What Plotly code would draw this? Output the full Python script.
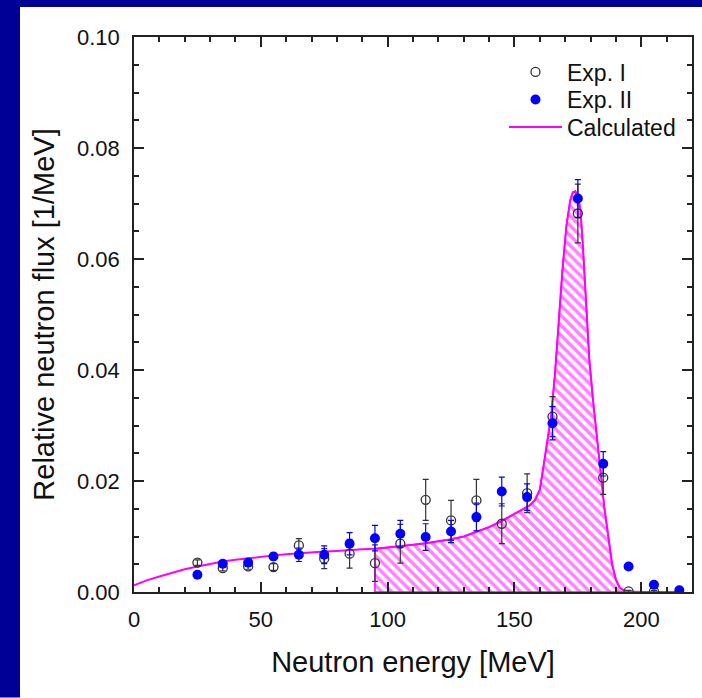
import plotly.graph_objects as go

# Measured spectra (energy bins in MeV, flux in 1/MeV)
exp1_energy = [25, 35, 45, 55, 65, 75, 85, 95, 105, 115, 125, 135, 145, 155, 165, 175, 185, 195, 205]
exp1_flux = [0.0053, 0.0043, 0.0046, 0.0045, 0.0084, 0.0060, 0.0069, 0.0052, 0.0087, 0.0166,
             0.0129, 0.0165, 0.0123, 0.0178, 0.0316, 0.0682, 0.0206, 0.0001, 0.0001]
exp1_err = [0.0005, 0.0005, 0.0005, 0.0006, 0.0012, 0.0018, 0.0026, 0.0033, 0.0035, 0.0037,
            0.0036, 0.0038, 0.0036, 0.0035, 0.0036, 0.0053, 0.0030, 0.0002, 0.0002]

exp2_energy = [25, 35, 45, 55, 65, 75, 85, 95, 105, 115, 125, 135, 145, 155, 165, 175, 185, 195, 205, 215]
exp2_flux = [0.0031, 0.0051, 0.0053, 0.0064, 0.0067, 0.0067, 0.0087, 0.0097, 0.0105, 0.0099,
             0.0109, 0.0135, 0.0181, 0.0171, 0.0304, 0.0709, 0.0231, 0.0046, 0.0013, 0.0003]
exp2_err = [0.0004, 0.0004, 0.0004, 0.0006, 0.0012, 0.0016, 0.0020, 0.0023, 0.0024, 0.0024,
            0.0020, 0.0025, 0.0026, 0.0024, 0.0030, 0.0034, 0.0022, 0.0003, 0.0002, 0.0002]

# Calculated spectrum
calc_energy = [0, 5, 10, 15, 20, 25, 30, 35, 40, 45, 50, 55, 60, 65, 70, 75, 80, 85, 90, 95,
               100, 105, 110, 115, 120, 125, 130, 135, 140, 145, 150, 153, 156, 158, 160, 161.5,
               163, 164.5, 166, 167.5, 169, 170.5, 172, 173, 174, 175, 176, 177, 178, 179.5,
               181, 182.5, 184, 185.5, 187, 188.5, 190, 191.5, 193, 195, 200, 205, 210, 215]
calc_flux = [0.0012, 0.0021, 0.0028, 0.0035, 0.0041, 0.0046, 0.0051, 0.0055, 0.0058, 0.0061,
             0.0064, 0.0066, 0.0068, 0.0070, 0.0072, 0.0073, 0.0074, 0.0076, 0.0077, 0.0078,
             0.0080, 0.0082, 0.0085, 0.0088, 0.0091, 0.0095, 0.0100, 0.0108, 0.0117, 0.0128,
             0.0141, 0.0148, 0.0156, 0.0165, 0.0184, 0.0228, 0.0275, 0.0318, 0.0395, 0.0490,
             0.0585, 0.0660, 0.0706, 0.0720, 0.0722, 0.0713, 0.0690, 0.0622, 0.0540, 0.0420,
             0.0345, 0.0280, 0.0212, 0.0150, 0.0100, 0.0050, 0.0022, 0.0008, 0.0003, 0.0001,
             0.0, 0.0, 0.0, 0.0]

hatch_from = 95  # MeV, start of the hatched region under the calculated curve

x_ticks = [0, 50, 100, 150, 200]
y_ticks = [0.00, 0.02, 0.04, 0.06, 0.08, 0.10]

MAGENTA = "#FF00FF"
BLUE = "#0000FF"
AXIS = "#222222"
NAVY = "#000096"
FONT = "Liberation Sans, Arial, sans-serif"

# Hatched region: closed polygon under the curve from hatch_from onward
seg = [(e, f) for e, f in zip(calc_energy, calc_flux) if e >= hatch_from]
hx = [seg[0][0]] + [e for e, _ in seg] + [seg[-1][0], seg[0][0]]
hy = [0.0] + [f for _, f in seg] + [0.0, 0.0]

fig = go.Figure()

fig.add_trace(go.Scatter(
    x=hx, y=hy, mode="lines", fill="toself",
    line=dict(color=MAGENTA, width=1.5),
    fillcolor="rgba(0,0,0,0)",
    fillpattern=dict(shape="\\", fgcolor=MAGENTA, bgcolor="white", size=7, solidity=0.5),
    showlegend=False, hoverinfo="skip",
))

fig.add_trace(go.Scatter(
    x=calc_energy, y=calc_flux, mode="lines", name="Calculated",
    line=dict(color=MAGENTA, width=2),
    legend="legend3",
))

fig.add_trace(go.Scatter(
    x=exp1_energy, y=exp1_flux, mode="markers", name="Exp. I",
    marker=dict(symbol="circle-open", size=9, color="#333333", line=dict(width=1.3)),
    error_y=dict(type="data", array=exp1_err, color="#333333", thickness=1.2, width=3),
    legend="legend",
))

fig.add_trace(go.Scatter(
    x=exp2_energy, y=exp2_flux, mode="markers", name="Exp. II",
    marker=dict(symbol="circle", size=10, color=BLUE),
    error_y=dict(type="data", array=exp2_err, color=BLUE, thickness=1.2, width=3),
    legend="legend2",
))

L, R, T, B = 134, 10, 37, 105.5
W, H = 702, 698
pw, ph = W - L - R, H - T - B

# Navy slide border along the left and top edges of the white panel
fig.add_shape(
    type="rect", xref="paper", yref="paper", layer="below",
    x0=-L / pw, x1=(20 - L) / pw,
    y0=-B / ph, y1=(H - B) / ph,
    fillcolor=NAVY, line=dict(width=0),
)
fig.add_shape(
    type="rect", xref="paper", yref="paper", layer="below",
    x0=-L / pw, x1=(W - L) / pw,
    y0=(H - 7 - B) / ph, y1=(H - B) / ph,
    fillcolor=NAVY, line=dict(width=0),
)

axis_common = dict(
    showline=True, linecolor=AXIS, linewidth=1.5, mirror="allticks",
    ticks="inside", ticklen=10, tickwidth=1.5, tickcolor=AXIS,
    showgrid=False, zeroline=False,
    tickfont=dict(family=FONT, size=22, color="#111111"),
)

fig.update_xaxes(
    range=[0, 220], tickvals=x_ticks,
    minor=dict(ticks="inside", ticklen=5, tickwidth=1.5, tickcolor=AXIS, dtick=10, tick0=0, showgrid=False),
    title=dict(text="Neutron energy [MeV]", font=dict(family=FONT, size=29, color="#111111"), standoff=21),
    ticklabelstandoff=7,
    **axis_common,
)
fig.update_yaxes(
    range=[0, 0.1], tickvals=y_ticks, tickformat=".2f",
    minor=dict(ticks="inside", ticklen=5, tickwidth=1.5, tickcolor=AXIS, dtick=0.005, tick0=0, showgrid=False),
    title=dict(text="Relative neutron flux [1/MeV]", font=dict(family=FONT, size=29, color="#111111"), standoff=14),
    ticklabelstandoff=8,
    **axis_common,
)


def legend_box(row_center_px):
    return dict(
        x=(504 - L) / pw, y=1 - (row_center_px - 21.5 - T) / ph,
        xanchor="left", yanchor="top",
        bgcolor="rgba(0,0,0,0)", borderwidth=0,
        font=dict(family=FONT, size=23, color="#111111"),
        itemwidth=53,
    )


fig.update_layout(
    width=W, height=H,
    margin=dict(l=L, r=R, t=T, b=B, autoexpand=False),
    paper_bgcolor="white",
    plot_bgcolor="white",
    font=dict(family=FONT, color="#111111"),
    legend=legend_box(72),
    legend2=legend_box(99.5),
    legend3=legend_box(127),
)

fig.write_html("out.html")
